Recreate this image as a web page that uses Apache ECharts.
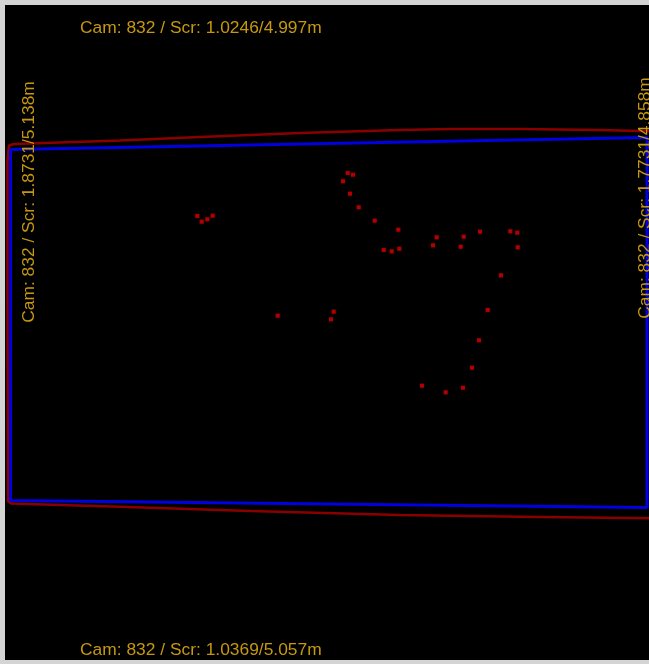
<!DOCTYPE html>
<html>
<head>
<meta charset="utf-8">
<script src="https://cdn.jsdelivr.net/npm/echarts@6/dist/echarts.min.js"></script>
<style>
html,body{margin:0;padding:0;background:#d4d4d4;}
#chart{width:649px;height:664px;}
</style>
</head>
<body>
<div id="chart"></div>
<script>
// Screen-space view: x 0..649, y 0..664 (y down)
const topLabel = "Cam: 832 / Scr: 1.0246/4.997m";
const bottomLabel = "Cam: 832 / Scr: 1.0369/5.057m";
const leftLabel = "Cam: 832 / Scr: 1.8731/5.138m";
const rightLabel = "Cam: 832 / Scr: 1.7731/4.858m";

// Blue (screen) outline corners
const blueOutline = [[10.5,149.5],[647,137.5],[647,507.5],[10.5,500.5],[10.5,149.5]];

// Red (projected / distorted) outline
const redOutline = [
  [660,131.5],[600,130],[520,129],[450,129],[400,130],[300,133],[200,137],[120,140.5],[60,142.5],[14,144],[9,145.5],
  [7.5,160],[7.5,300],[7.8,450],[8,501],[11,503.5],
  [60,505],[120,506.7],[250,511],[400,515],[520,516.7],[660,518.5]
];

// Detected points
const pointsX = [197.3,201.7,207.3,212.7,347.7,353,343,350,358.7,374.7,398.3,383.7,391.7,399.3,436.7,433,463.7,460.7,480,510.3,517.3,517.7,501,487.7,479,472,463,445.7,422,333.7,331,277.7];
const pointsY = [216,221.7,219.3,215.7,173,174.7,181.3,193.7,207.3,220.7,229.7,250,251.3,248.7,237.3,245.3,236.7,246.7,231.7,231.3,232.7,247.3,275.3,310,340.3,367.7,387.7,392.3,385.7,311.7,319.3,315.7];

const textColor = '#c6980f';
const font = '"Liberation Sans", Arial, sans-serif';
const fs = '17.4px ';

const chart = echarts.init(document.getElementById('chart'), null, {renderer:'canvas'});
chart.setOption({
  animation:false,
  backgroundColor:'#d4d4d4',
  grid:{left:0,right:0,top:0,bottom:0},
  xAxis:{type:'value',min:0,max:649,show:false},
  yAxis:{type:'value',min:0,max:664,inverse:true,show:false},
  graphic:[
    {type:'rect',z:-10,shape:{x:5,y:5,width:650,height:655},style:{fill:'#000000'}},
    {type:'text',z:100,x:80,y:28,style:{text:topLabel,fill:textColor,font:fs+font,textVerticalAlign:'middle',textAlign:'left'}},
    {type:'text',z:100,x:80,y:650,style:{text:bottomLabel,fill:textColor,font:fs+font,textVerticalAlign:'middle',textAlign:'left'}},
    {type:'text',z:100,x:29,y:202,rotation:Math.PI/2,style:{text:leftLabel,fill:textColor,font:fs+font,textVerticalAlign:'middle',textAlign:'center'}},
    {type:'text',z:100,x:645,y:198,rotation:Math.PI/2,style:{text:rightLabel,fill:textColor,font:fs+font,textVerticalAlign:'middle',textAlign:'center'}}
  ],
  series:[
    {type:'line',data:redOutline,symbol:'none',clip:true,lineStyle:{color:'#8a0000',width:2.5},z:2},
    {type:'line',data:blueOutline,symbol:'none',clip:true,lineStyle:{color:'#0000e0',width:3},z:3},
    {type:'scatter',data:pointsX.map((x,i)=>[x,pointsY[i]]),symbol:'rect',symbolSize:4,itemStyle:{color:'#d00000',shadowBlur:2,shadowColor:'#600000'},z:4}
  ]
});
</script>
</body>
</html>
